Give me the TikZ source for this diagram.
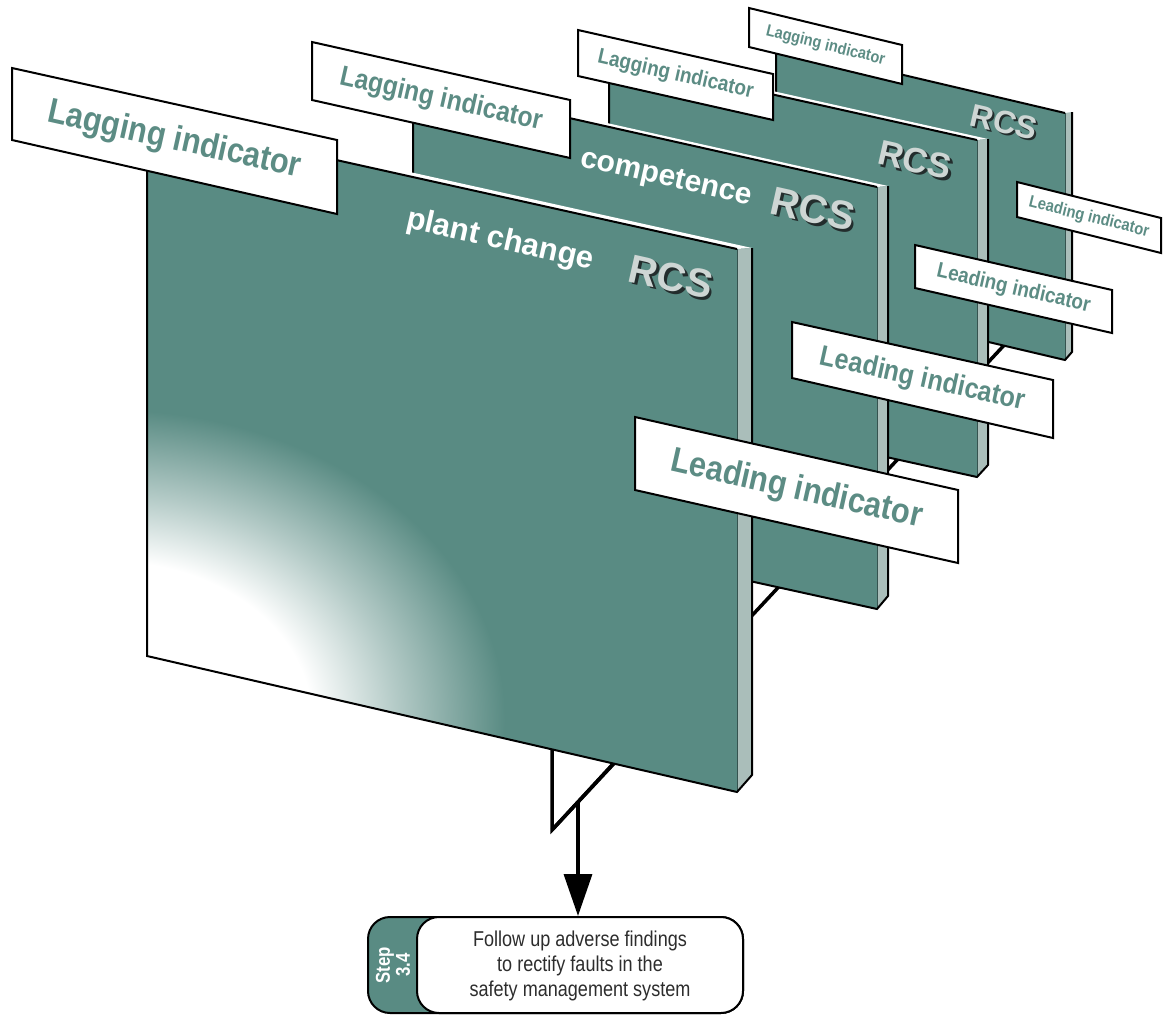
\documentclass[tikz,border=0pt]{standalone}
\usepackage{fontspec}
\setmainfont{Liberation Sans}
\newfontfamily\labfont[FakeStretch=0.88]{Liberation Sans}
\newfontfamily\capfont[FakeStretch=0.84]{Liberation Sans}
\usetikzlibrary{arrows.meta}
\definecolor{teal1}{RGB}{89,139,131}
\definecolor{labteal}{RGB}{92,140,132}
\definecolor{stripcol}{RGB}{170,190,186}
\definecolor{rcsfill}{RGB}{206,214,212}
\definecolor{rcsshadow}{RGB}{35,45,45}
\definecolor{txtgrey}{RGB}{45,45,45}
\pgfdeclareradialshading{glow}{\pgfpoint{0bp}{0bp}}{color(0bp)=(white); color(12bp)=(white); color(17bp)=(white!55!teal1); color(23.5bp)=(teal1); color(50bp)=(teal1)}
\tikzset{
  outline/.style={line width=2pt, line join=miter, line cap=butt},
  divider/.style={line width=0.6pt, draw=teal1!60!black},
  tagbox/.style={fill=white, draw=black, line width=2pt, line join=miter},
  tagtext/.style={text=labteal, inner sep=0pt, font={\labfont\bfseries\fontsize{#1pt}{#1pt}\selectfont}},
  rcsshad/.style={text=rcsshadow, inner sep=0pt, font={\bfseries\fontsize{#1pt}{#1pt}\selectfont}},
  rcstext/.style={text=rcsfill, inner sep=0pt, font={\bfseries\fontsize{#1pt}{#1pt}\selectfont}},
  paneltext/.style={text=white, inner sep=0pt, font={\bfseries\fontsize{#1pt}{#1pt}\selectfont}},
  stand/.style={line width=3.5pt, line join=miter, draw=black},
}
\begin{document}
\begin{tikzpicture}[x=1pt, y=-1pt]
\useasboundingbox (0,0) rectangle (1163,1018);
\fill[white] (0,0) rectangle (1163,1018);

% stand line running back through all panels
\coordinate (postbot) at (552,830);
\coordinate (posttop) at (552,749);
\coordinate (p1foot) at (612,765);
\coordinate (standend) at (1008,341);
\draw[stand] (postbot) -- (standend);

% ---------- panel 4 (back) ----------
\fill[teal1] (776,45) -- (1065,113) -- (1065,360) -- (776,292) -- cycle;
\fill[white] (776,45) -- (1065,113) -- (1072,112) -- (783,44) -- cycle;
\fill[stripcol] (1065,113) -- (1072,112) -- (1072,352) -- (1065,360) -- cycle;
\draw[divider] (1065,113) -- (1065,360);
\draw[outline] (776,45) -- (1065,113);
\draw[outline] (776,45) -- (776,292) -- (1065,360) -- (1072,352) -- (1072,112);
\node[rcsshad=32, rotate=-13] (rcs4s) at (1006,124) {RCS};
\node[rcstext=32, rotate=-13] (rcs4) at (1004,122) {RCS};
% labels of panel 4
\filldraw[tagbox] (749,8) -- (902,45) -- (902,84) -- (749,47) -- cycle;
\node[tagtext=16.5, rotate=-13.6] (lag4) at (825.5,46) {Lagging indicator};
\filldraw[tagbox] (1017,182) -- (1161,218) -- (1161,253) -- (1017,217) -- cycle;
\node[tagtext=16.8, rotate=-14] (lead4) at (1089,217.5) {Leading indicator};

% ---------- panel 3 ----------
\fill[teal1] (609,58) -- (977,140) -- (977,477) -- (609,396) -- cycle;
\fill[white] (609,58) -- (977,140) -- (988,139) -- (620,57) -- cycle;
\fill[stripcol] (977,140) -- (988,139) -- (988,465) -- (977,477) -- cycle;
\draw[divider] (977,140) -- (977,477);
\draw[outline] (609,58) -- (977,140);
\draw[outline] (609,58) -- (609,396) -- (977,477) -- (988,465) -- (988,139);
\node[rcsshad=35, rotate=-12.7] (rcs3s) at (917.5,162.5) {RCS};
\node[rcstext=35, rotate=-12.7] (rcs3) at (915,160) {RCS};
\filldraw[tagbox] (578,30) -- (773,74) -- (773,120) -- (578,76) -- cycle;
\node[tagtext=21.5, rotate=-12.7] (lag3) at (675.5,75) {Lagging indicator};
\filldraw[tagbox] (915,245) -- (1112,290) -- (1112,333) -- (915,288) -- cycle;
\node[tagtext=21.4, rotate=-12.9] (lead3) at (1013.5,289) {Leading indicator};

% ---------- panel 2 ----------
\fill[teal1] (413,83) -- (877,187) -- (877,609) -- (413,507) -- cycle;
\fill[white] (413,83) -- (877,187) -- (888,186) -- (424,82) -- cycle;
\fill[stripcol] (877,187) -- (888,186) -- (888,596) -- (877,609) -- cycle;
\draw[divider] (877,187) -- (877,609);
\draw[outline] (413,83) -- (877,187);
\draw[outline] (413,83) -- (413,507) -- (877,609) -- (888,596) -- (888,186);
\node[paneltext=30, rotate=-12.7] (comp) at (666,179) {competence};
\node[rcsshad=40, rotate=-12.7] (rcs2s) at (815.5,211.5) {RCS};
\node[rcstext=40, rotate=-12.7] (rcs2) at (813,209) {RCS};
\filldraw[tagbox] (312,42) -- (570,100) -- (570,158) -- (312,100) -- cycle;
\node[tagtext=28, rotate=-12.7] (lag2) at (441,100) {Lagging indicator};
\filldraw[tagbox] (792,322) -- (1053,380) -- (1053,438) -- (792,378) -- cycle;
\node[tagtext=28.5, rotate=-12.5] (lead2) at (922.5,380) {Leading indicator};

% ---------- panel 1 (front) ----------
\fill[teal1] (147,118) -- (737,249) -- (737,792) -- (147,656) -- cycle;
\begin{scope}
  \clip (147,118) -- (737,249) -- (737,792) -- (147,656) -- cycle;
  \shade[shading=glow] (110,720) ellipse [x radius=420pt, y radius=330pt];
\end{scope}
\fill[white] (147,118) -- (737,249) -- (752,248) -- (162,117) -- cycle;
\fill[stripcol] (737,249) -- (752,248) -- (752,775) -- (737,792) -- cycle;
\draw[divider] (737,249) -- (737,792);
\draw[outline] (147,118) -- (737,249);
\draw[outline] (147,118) -- (147,656) -- (737,792) -- (752,775) -- (752,248);
\node[paneltext=31, rotate=-12.7] (plant) at (500,241) {plant change};
\node[rcsshad=40, rotate=-12.7] (rcs1s) at (673.5,279.5) {RCS};
\node[rcstext=40, rotate=-12.7] (rcs1) at (671,277) {RCS};
\filldraw[tagbox] (12,68) -- (337,140) -- (337,214) -- (12,140) -- cycle;
\node[tagtext=35, rotate=-12.5] (lag1) at (174.5,140.5) {Lagging indicator};
\filldraw[tagbox] (635,417) -- (958,490) -- (958,563) -- (635,490) -- cycle;
\node[tagtext=35, rotate=-12.7] (lead1) at (796.5,490) {Leading indicator};

% front post of the stand
\draw[stand] (posttop) -- (postbot) -- (p1foot);

% ---------- step box ----------
\filldraw[fill=teal1, draw=black, line width=2pt, rounded corners=22pt] (368,917) rectangle (743,1013);
\node[draw=black, fill=white, line width=2pt, rounded corners=22pt, minimum width=326pt, minimum height=96pt, inner sep=0pt] (stepbox) at (580,965) {};
\node[text=white, rotate=90, align=center, inner sep=0pt, font={\capfont\bfseries\fontsize{20pt}{20pt}\selectfont}] (steplabel) at (393,965) {Step\\3.4};
\node[text=txtgrey, align=center, inner sep=0pt, font={\capfont\fontsize{21.5pt}{25pt}\selectfont}] (steptext) at (580,966) {Follow up adverse findings\\to rectify faults in the\\safety management system};

% arrow
\coordinate (arrowtop) at (578,802);
\draw[stand, -{Triangle[length=42pt,width=28pt]}] (arrowtop) -- (arrowtop |- stepbox.north);
\end{tikzpicture}
\end{document}
